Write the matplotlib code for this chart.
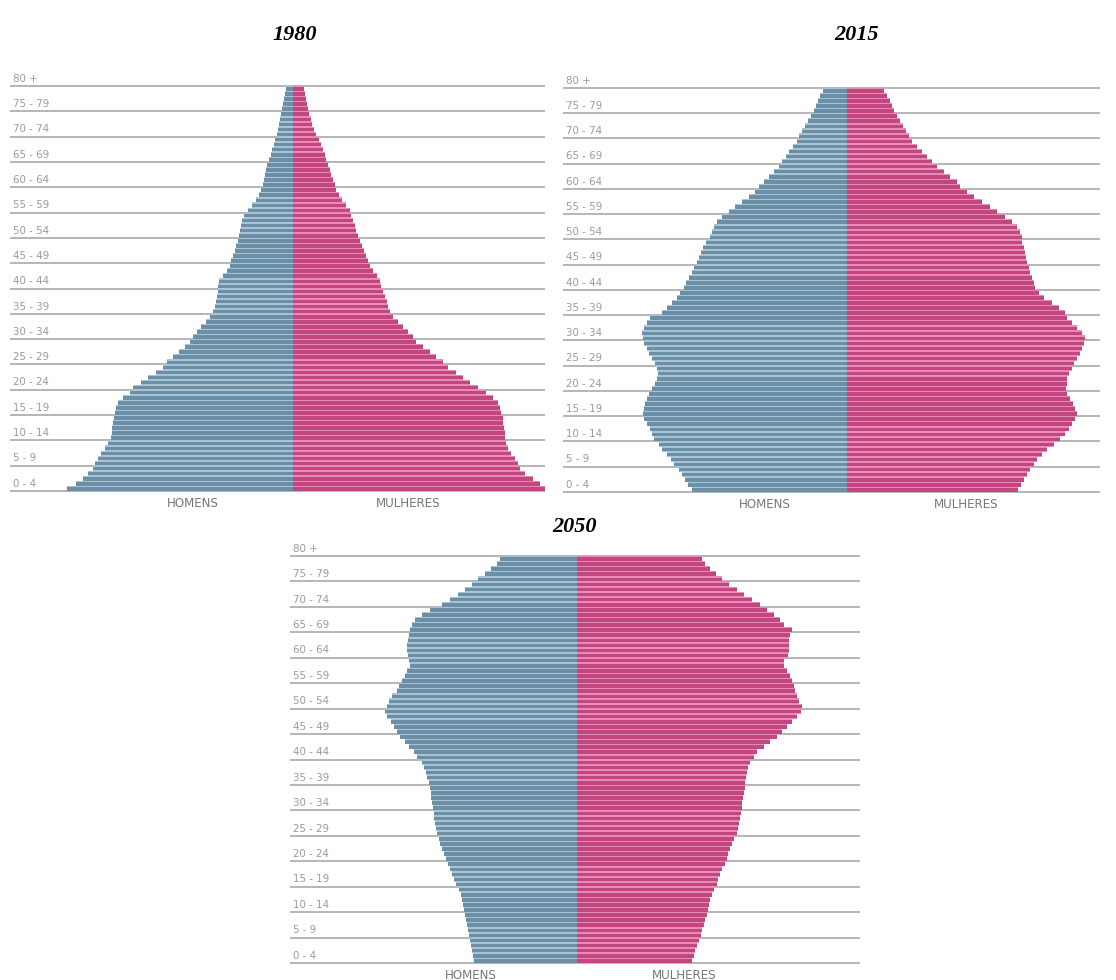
import numpy as np
import matplotlib.pyplot as plt

# bar lengths, one per single year of age,
# listed from the top of each pyramid (age 79) down to age 0
homens_1980 = [7, 8, 9, 10, 11, 12, 13, 14, 15, 16, 18, 19, 21, 22, 24,
               26, 27, 28, 29, 30, 32, 34, 37, 41, 45, 49, 51, 52, 53, 54,
               55, 57, 58, 60, 62, 63, 66, 70, 74, 75, 75, 76, 77, 78, 80,
               83, 87, 92, 96, 100, 103, 108, 114, 120, 126, 130, 137, 145, 152, 160,
               163, 170, 175, 177, 178, 179, 180, 181, 181, 182, 185, 188, 192, 195, 198,
               200, 205, 210, 217, 226]
mulheres_1980 = [11, 12, 13, 14, 15, 16, 18, 19, 21, 23, 26, 28, 30, 32, 33,
                 35, 37, 38, 40, 42, 43, 46, 49, 53, 57, 58, 60, 62, 63, 65,
                 67, 69, 71, 73, 75, 77, 80, 84, 87, 88, 90, 92, 94, 95, 97,
                 100, 105, 110, 115, 120, 123, 130, 137, 143, 150, 155, 163, 170, 177, 185,
                 193, 200, 205, 207, 208, 210, 210, 211, 212, 212, 213, 215, 218, 222, 225,
                 227, 232, 240, 247, 257]

homens_2015 = [24, 27, 29, 31, 33, 36, 39, 42, 45, 48, 50, 54, 58, 61, 65,
               68, 73, 78, 83, 88, 92, 98, 105, 112, 118, 125, 130, 133, 135, 137,
               141, 144, 146, 148, 150, 153, 155, 158, 161, 163, 167, 170, 175, 180, 185,
               197, 200, 203, 205, 204, 203, 200, 198, 195, 192, 190, 189, 190, 192, 195,
               198, 200, 202, 203, 204, 203, 200, 197, 195, 193, 188, 185, 180, 176, 173,
               168, 165, 162, 159, 155]
mulheres_2015 = [37, 40, 43, 45, 47, 50, 53, 56, 59, 62, 65, 70, 75, 80, 85,
                 90, 97, 103, 110, 113, 120, 127, 135, 143, 150, 158, 165, 170, 173, 175,
                 175, 177, 178, 179, 180, 182, 183, 185, 187, 188, 192, 197, 205, 212, 218,
                 220, 225, 230, 235, 238, 237, 235, 233, 230, 227, 225, 222, 220, 220, 219,
                 220, 223, 226, 228, 230, 228, 225, 222, 218, 213, 207, 200, 195, 190, 187,
                 183, 180, 177, 174, 171]

homens_2050 = [77, 80, 86, 92, 99, 105, 112, 119, 127, 135, 147, 155, 162, 165, 167,
               168, 169, 170, 170, 169, 168, 167, 170, 172, 175, 178, 180, 185, 188, 190,
               192, 190, 186, 183, 180, 177, 172, 168, 163, 160, 155, 153, 151, 150, 148,
               147, 146, 146, 145, 144, 143, 143, 142, 141, 140, 138, 137, 135, 133, 131,
               129, 127, 125, 123, 121, 118, 116, 115, 114, 113, 112, 111, 110, 109, 108,
               107, 106, 105, 104, 103]
mulheres_2050 = [125, 128, 133, 139, 145, 152, 160, 167, 175, 183, 190, 197, 203, 207, 215,
                 213, 212, 212, 212, 211, 207, 207, 210, 213, 215, 217, 218, 220, 222, 225,
                 224, 220, 215, 210, 205, 200, 193, 187, 180, 177, 173, 171, 170, 169, 168,
                 168, 167, 166, 165, 165, 164, 163, 162, 161, 160, 157, 155, 153, 151, 150,
                 148, 145, 143, 141, 140, 137, 135, 133, 132, 131, 130, 128, 127, 125, 124,
                 122, 120, 118, 117, 115]

faixas = ["0 - 4", "5 - 9", "10 - 14", "15 - 19", "20 - 24", "25 - 29", "30 - 34",
          "35 - 39", "40 - 44", "45 - 49", "50 - 54", "55 - 59", "60 - 64",
          "65 - 69", "70 - 74", "75 - 79", "80 +"]
anos = ["1980", "2015", "2050"]

W, H = 1116, 980
AZUL, AZUL_CLARO = "#6b8fa6", "#a9c3d2"
ROSA, ROSA_CLARO = "#c2467f", "#e88ab2"


def piramide(fig, homens, mulheres, titulo, left, right, center, y0, y80,
             title_xy, sexo_dx):
    """left/right/center/y0/y80 are pixel positions in the figure (y from top)"""
    per_year = (y0 - y80) / 80.0
    pad_bot, pad_top = 0.3, 3.2
    bot_px = y0 + pad_bot * per_year
    top_px = y80 - pad_top * per_year
    ax = fig.add_axes([left / W, 1 - bot_px / H, (right - left) / W, (bot_px - top_px) / H])
    ax.set_xlim(left - center, right - center)
    ax.set_ylim(-pad_bot, 80 + pad_top)
    ax.axis("off")

    idade = 79 - np.arange(len(homens))
    h = np.array(homens)
    m = np.array(mulheres)
    # light stripe under each bar, darker body on top
    ax.barh(idade + 0.5, -h, height=1.0, color=AZUL_CLARO, zorder=2)
    ax.barh(idade + 0.42, -h, height=0.7, color=AZUL, zorder=3)
    ax.barh(idade + 0.5, m, height=1.0, color=ROSA_CLARO, zorder=2)
    ax.barh(idade + 0.42, m, height=0.7, color=ROSA, zorder=3)

    for k, lab in enumerate(faixas):
        ax.axhline(5 * k, color="#b5b5b5", lw=1.4, zorder=1)
        ax.text(left - center + 3, 5 * k + 0.45, lab, fontsize=7.4,
                color="#9a9a9a", ha="left", va="bottom", zorder=1)

    ylab = 1 - (y0 + 12) / H
    fig.text((center - sexo_dx[0]) / W, ylab, "HOMENS", fontsize=8.6,
             color="#777777", ha="center", va="center")
    fig.text((center + sexo_dx[1]) / W, ylab, "MULHERES", fontsize=8.6,
             color="#777777", ha="center", va="center")
    fig.text(title_xy[0] / W, 1 - title_xy[1] / H, titulo, fontsize=16,
             family="Liberation Serif", weight="bold", style="italic",
             ha="center", va="center")


fig = plt.figure(figsize=(W / 100, H / 100), dpi=100)
piramide(fig, homens_1980, mulheres_1980, anos[0], 10, 545, 293, 491, 86, (295, 35), (100, 115))
piramide(fig, homens_2015, mulheres_2015, anos[1], 563, 1100, 847, 492, 88, (857, 35), (82, 119))
piramide(fig, homens_2050, mulheres_2050, anos[2], 290, 860, 577, 963, 556, (575, 527), (106, 107))
fig.savefig("out.png", dpi=100)
plt.close(fig)
